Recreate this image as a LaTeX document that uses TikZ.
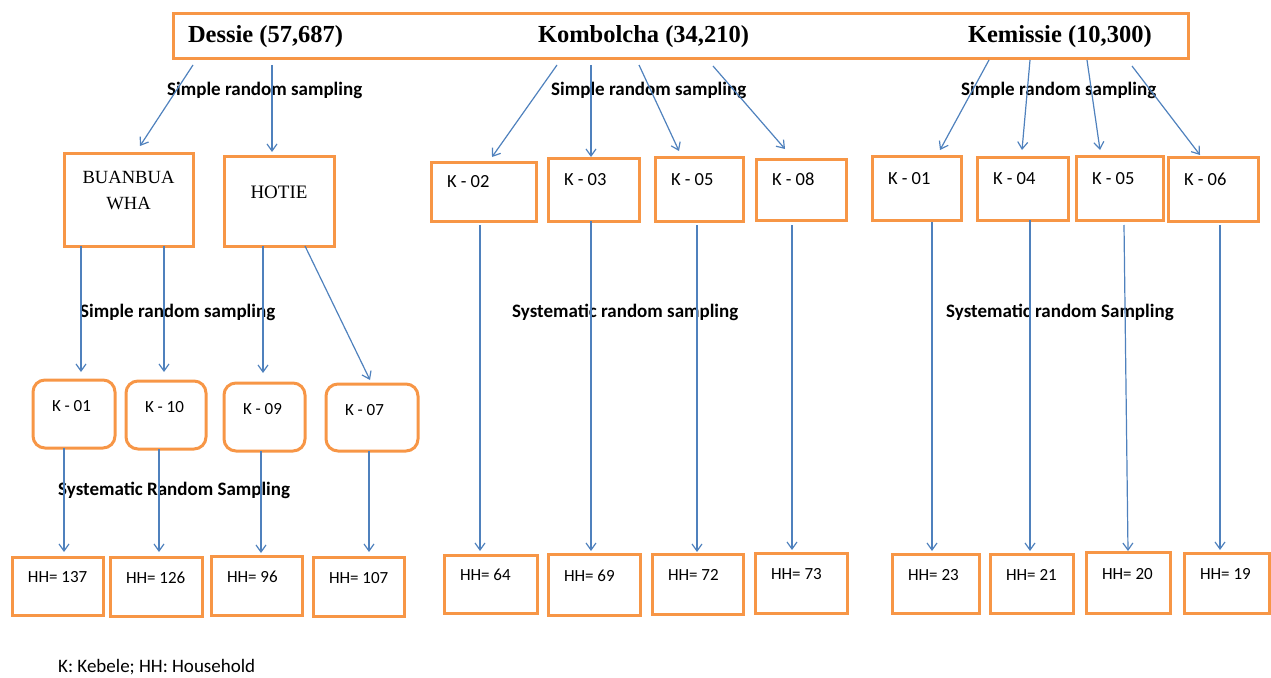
\documentclass[tikz,border=0pt]{standalone}
\usepackage{fontspec}
\setmainfont{Carlito}
\newfontfamily\timesf{Liberation Serif}
\usetikzlibrary{arrows.meta,calc}
\definecolor{orng}{HTML}{F79646}
\definecolor{blu}{HTML}{4F81BD}
\begin{document}
\begin{tikzpicture}[x=1pt,y=-1pt,
  bx/.style 2 args={draw=orng, line width=3pt, anchor=north west, outer sep=0pt,
     inner xsep=0pt, inner ysep=0pt, minimum width=#1pt, text width=#1pt,
     minimum height=#2pt, align=flush left},
  pad/.style={execute at begin node={\hspace*{#1pt}}},
  ku/.style={font=\fontsize{18.5}{22}\selectfont, text depth=20pt, pad=16},
  kl/.style={font=\fontsize{17}{20}\selectfont, text depth=16pt, pad=19, rounded corners=12pt},
  hh/.style={font=\fontsize{17}{20}\selectfont, text depth=18pt, pad=16},
  lbl/.style={anchor=west, inner sep=0pt, font=\bfseries\fontsize{19}{23}\selectfont},
  arr/.style={draw=blu, line width=1.2pt, -{Straight Barb[length=7pt,width=10pt]}},
]
\useasboundingbox (0,0) rectangle (1271,677);

% top box
\node[bx={1015}{45}, font=\timesf\bfseries\fontsize{24.5}{28}\selectfont] (top) at (173,14)
  {\hspace*{15pt}\rlap{Dessie (57,687)}\hspace*{350pt}\rlap{Kombolcha (34,210)}\hspace*{430pt}\rlap{Kemissie (10,300)}};

% second level
\node[bx={129}{93}, align=flush center, font=\timesf\fontsize{18.6}{26}\selectfont, text depth=45pt] (bua) at (64,153) {BUANBUA\\WHA};
\node[bx={110}{90}, align=flush center, font=\timesf\fontsize{19}{23}\selectfont, text depth=18pt] (hot) at (224,156) {HOTIE};

\node[bx={105}{59}, ku] (k02) at (431,162) {K - 02};
\node[bx={91}{63}, ku] (k03) at (548,158) {K - 03};
\node[bx={88}{64}, ku] (k05a) at (655,157) {K - 05};
\node[bx={90}{61}, ku] (k08) at (756,159) {K - 08};
\node[bx={89}{64}, ku] (k01a) at (872,156) {K - 01};
\node[bx={91}{63}, ku] (k04) at (977,157) {K - 04};
\node[bx={87}{64}, ku] (k05b) at (1076,156) {K - 05};
\node[bx={90}{64}, ku] (k06) at (1168,157) {K - 06};

% third level (Dessie kebeles)
\node[bx={82}{68}, kl] (k01) at (33,380) {K - 01};
\node[bx={80}{68}, kl] (k10) at (126,381) {K - 10};
\node[bx={81}{68}, kl] (k09) at (224,383) {K - 09};
\node[bx={92}{67}, kl] (k07) at (326,384) {K - 07};

% households
\node[bx={91}{58}, hh] (h137) at (12,557) {HH= 137};
\node[bx={92}{59}, hh] (h126) at (110,557) {HH= 126};
\node[bx={91}{59}, hh] (h96) at (211,556) {HH= 96};
\node[bx={91}{59}, hh] (h107) at (313,557) {HH= 107};
\node[bx={93}{58}, hh] (h64) at (444,555) {HH= 64};
\node[bx={92}{61}, hh] (h69) at (548,554) {HH= 69};
\node[bx={91}{60}, hh] (h72) at (652,554) {HH= 72};
\node[bx={92}{60}, hh] (h73) at (755,553) {HH= 73};
\node[bx={87}{59}, hh] (h23) at (892,554) {HH= 23};
\node[bx={83}{59}, hh] (h21) at (990,554) {HH= 21};
\node[bx={84}{61}, hh] (h20) at (1086,552) {HH= 20};
\node[bx={85}{60}, hh] (h19) at (1184,553) {HH= 19};

% labels
\node[lbl] (s1) at (167,90) {Simple random sampling};
\node[lbl] (s2) at (551,90) {Simple random sampling};
\node[lbl] (s3) at (961,90) {Simple random sampling};
\node[lbl] (s4) at (80,312) {Simple random sampling};
\node[lbl] (sy1) at (58,490) {Systematic Random Sampling};
\node[lbl] (sy2) at (512,312) {Systematic random sampling};
\node[lbl] (sy3) at (946,312) {Systematic random Sampling};
\node[anchor=west, inner sep=0pt, font=\fontsize{19}{23}\selectfont] (leg) at (58,667) {K: Kebele; HH: Household};

% arrows from top box
\draw[arr] ($(top.south west)+(20,6)$) -- ($(bua.north west)+(76,-7)$);
\draw[arr] ($(top.south west)+(99,6)$) -- ($(hot.north west)+(48,-4)$);
\draw[arr] ($(top.south west)+(384,6)$) -- ($(k02.north west)+(61,-5)$);
\draw[arr] ($(top.south west)+(418,6)$) -- ($(k03.north west)+(43,-1)$);
\draw[arr] ($(top.south west)+(466,6)$) -- ($(k05a.north west)+(24,-6)$);
\draw[arr] ($(top.south west)+(540,7)$) -- ($(k08.north west)+(29,-10)$);
\draw[arr] ($(top.south west)+(816,1)$) -- ($(k01a.north west)+(68,-6)$);
\draw[arr] ($(top.south west)+(857,1)$) -- ($(k04.north west)+(45,-7)$);
\draw[arr] ($(top.south west)+(914,1)$) -- ($(k05b.north west)+(24,-6)$);
\draw[arr] ($(top.south west)+(959,7)$) -- ($(k06.north west)+(32,-2)$);

% Dessie sub-cities to kebeles
\draw[arr] ($(bua.south west)+(17,0)$) -- ($(k01.north west)+(48,-8)$);
\draw[arr] ($(bua.south west)+(100,0)$) -- ($(k10.north west)+(38,-9)$);
\draw[arr] ($(hot.south west)+(39,0)$) -- ($(k09.north west)+(39,-10)$);
\draw[arr] ($(hot.south west)+(81,0)$) -- ($(k07.north west)+(44,-4)$);

% kebeles to households
\draw[arr] ($(k01.south west)+(31,0)$) -- ($(h137.north west)+(52,-5)$);
\draw[arr] ($(k10.south west)+(33,0)$) -- ($(h126.north west)+(49,-5)$);
\draw[arr] ($(k09.south west)+(37,0)$) -- ($(h96.north west)+(50,-3)$);
\draw[arr] ($(k07.south west)+(43,0)$) -- ($(h107.north west)+(56,-5)$);
\draw[arr] ($(k02.south west)+(49,4)$) -- ($(h64.north west)+(36,-4)$);
\draw[arr] ($(k03.south west)+(43,0)$) -- ($(h69.north west)+(43,-3)$);
\draw[arr] ($(k05a.south west)+(42,4)$) -- ($(h72.north west)+(45,-2)$);
\draw[arr] ($(k08.south west)+(36,5)$) -- ($(h73.north west)+(37,-3)$);
\draw[arr] ($(k01a.south west)+(60,2)$) -- ($(h23.north west)+(40,-3)$);
\draw[arr] ($(k04.south west)+(53,0)$) -- ($(h21.north west)+(40,-3)$);
\draw[arr] ($(k05b.south west)+(48,5)$) -- ($(h20.north west)+(42,-1)$);
\draw[arr] ($(k06.south west)+(52,4)$) -- ($(h19.north west)+(36,-3)$);
\end{tikzpicture}
\end{document}
